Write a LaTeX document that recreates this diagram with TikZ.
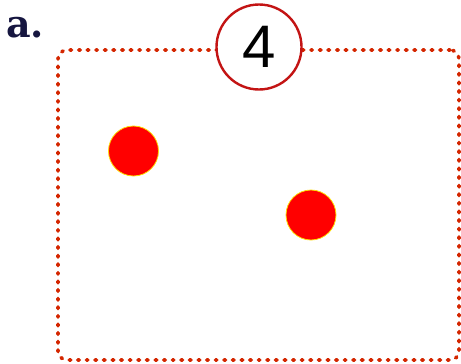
\documentclass[tikz,border=0pt]{standalone}
\usepackage{fontspec}
\newfontfamily\digitfont{Liberation Sans}
\newfontfamily\labelfont{DejaVu Serif}
\definecolor{dotred}{RGB}{212,38,0}
\definecolor{ringred}{RGB}{195,20,20}
\definecolor{navy}{RGB}{22,22,64}
\tikzset{
  framebox/.style={draw=dotred,line width=3.6pt,line cap=round,dash pattern=on 1.6pt off 7pt,rounded corners=9pt,minimum width=401pt,minimum height=310pt,inner sep=0pt},
  countring/.style={circle,draw=ringred,line width=2.4pt,fill=white,minimum size=85pt,inner sep=0pt,font=\digitfont\fontsize{60}{60}\selectfont},
  counter/.style={circle,fill=red,draw=yellow!80!orange,line width=0.8pt,minimum size=50pt,inner sep=0pt}
}
\begin{document}
\begin{tikzpicture}[x=1pt,y=-1pt]
  \useasboundingbox (0,0) rectangle (461,364);
  \node[framebox] (frame) at (258.5,205) {};
  \node[countring] (count) at (259,47) {4};
  \node[counter] (dotA) at (133.5,151) {};
  \node[counter] (dotB) at (311,215) {};
  \node[anchor=base west,inner sep=0pt,text=navy,font=\labelfont\bfseries\fontsize{38}{38}\selectfont] (lbl) at (6,37) {a.};
\end{tikzpicture}
\end{document}
